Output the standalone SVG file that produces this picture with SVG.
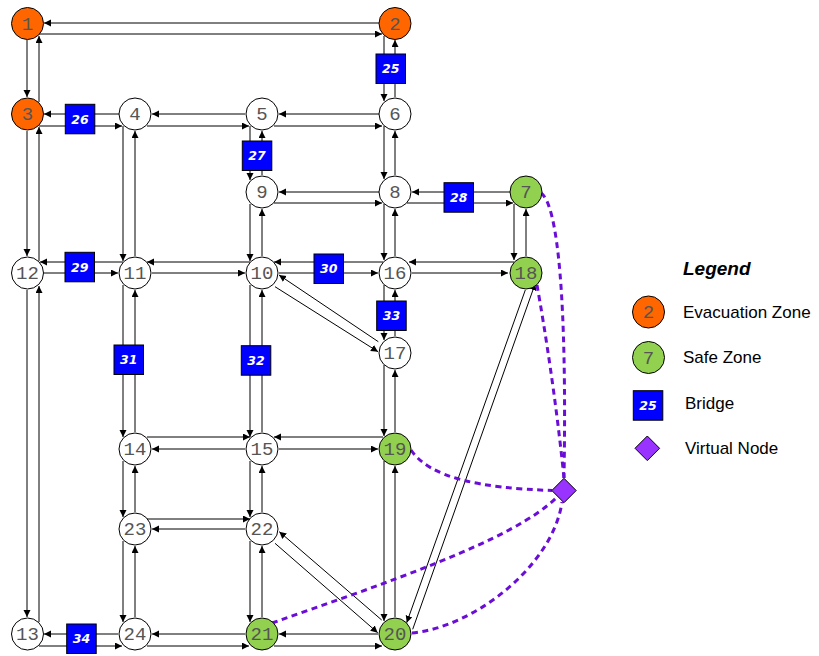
<svg xmlns="http://www.w3.org/2000/svg" width="819" height="656" viewBox="0 0 819 656">
<defs>
<marker id="ah" markerWidth="8" markerHeight="8" refX="7" refY="3.5" orient="auto" markerUnits="userSpaceOnUse"><path d="M0,0 L7,3.5 L0,7 z" fill="#000"/></marker>
<style>
.e{stroke:#000;stroke-width:1;fill:none;marker-end:url(#ah)}
.v{stroke:#6a0dd6;stroke-width:3;fill:none;stroke-dasharray:6 4.5}
.nd circle{stroke:#000;stroke-width:1}
.w{fill:#fff}.o{fill:#ff6600}.g{fill:#92d050}
.lbl{font-family:"Liberation Mono","DejaVu Sans Mono",monospace;font-size:19px;fill:#555;text-anchor:middle}
.br rect{fill:#0000ff;stroke:#000;stroke-width:1}
.bt{font-family:"DejaVu Sans",sans-serif;font-weight:bold;font-style:italic;font-size:12.5px;fill:#fff;text-anchor:middle}
.lg{font-family:"Liberation Sans",Arial,sans-serif;font-size:17px;fill:#000}
</style>
</defs>
<rect width="819" height="656" fill="#fff"/>
<g id="connectors">
<line class="e" x1="379" y1="23" x2="44" y2="23"/>
<line class="e" x1="39" y1="34" x2="382" y2="34"/>
<line class="e" x1="119" y1="114" x2="44" y2="114"/>
<line class="e" x1="39" y1="126" x2="122" y2="126"/>
<line class="e" x1="245" y1="114" x2="152" y2="114"/>
<line class="e" x1="147" y1="126" x2="249" y2="126"/>
<line class="e" x1="379" y1="114" x2="279" y2="114"/>
<line class="e" x1="274" y1="126" x2="382" y2="126"/>
<line class="e" x1="379" y1="192" x2="279" y2="192"/>
<line class="e" x1="274" y1="203" x2="382" y2="203"/>
<line class="e" x1="510" y1="192" x2="412" y2="192"/>
<line class="e" x1="407" y1="203" x2="513" y2="203"/>
<line class="e" x1="123" y1="262" x2="40" y2="262"/>
<line class="e" x1="44" y1="273" x2="118" y2="273"/>
<line class="e" x1="250" y1="262" x2="147" y2="262"/>
<line class="e" x1="152" y1="273" x2="245" y2="273"/>
<line class="e" x1="383" y1="262" x2="274" y2="262"/>
<line class="e" x1="279" y1="273" x2="378" y2="273"/>
<line class="e" x1="514" y1="262" x2="409" y2="262"/>
<line class="e" x1="412" y1="273" x2="508" y2="273"/>
<line class="e" x1="147" y1="437" x2="250" y2="437"/>
<line class="e" x1="245" y1="449" x2="152" y2="449"/>
<line class="e" x1="383" y1="437" x2="274" y2="437"/>
<line class="e" x1="279" y1="449" x2="378" y2="449"/>
<line class="e" x1="147" y1="519" x2="250" y2="519"/>
<line class="e" x1="245" y1="529" x2="152" y2="529"/>
<line class="e" x1="118" y1="634" x2="44" y2="634"/>
<line class="e" x1="39" y1="646" x2="122" y2="646"/>
<line class="e" x1="245" y1="634" x2="152" y2="634"/>
<line class="e" x1="147" y1="646" x2="249" y2="646"/>
<line class="e" x1="378" y1="634" x2="279" y2="634"/>
<line class="e" x1="274" y1="646" x2="382" y2="646"/>
<line class="e" x1="27" y1="40" x2="27" y2="97"/>
<line class="e" x1="39" y1="102" x2="39" y2="36"/>
<line class="e" x1="27" y1="131" x2="27" y2="256"/>
<line class="e" x1="39" y1="261" x2="39" y2="127"/>
<line class="e" x1="27" y1="290" x2="27" y2="617"/>
<line class="e" x1="39" y1="622" x2="39" y2="286"/>
<line class="e" x1="123" y1="126" x2="123" y2="261"/>
<line class="e" x1="135" y1="256" x2="135" y2="131"/>
<line class="e" x1="123" y1="285" x2="123" y2="437"/>
<line class="e" x1="135" y1="432" x2="135" y2="290"/>
<line class="e" x1="123" y1="461" x2="123" y2="517"/>
<line class="e" x1="135" y1="512" x2="135" y2="466"/>
<line class="e" x1="123" y1="541" x2="123" y2="622"/>
<line class="e" x1="135" y1="617" x2="135" y2="546"/>
<line class="e" x1="250" y1="126" x2="250" y2="180"/>
<line class="e" x1="262" y1="175" x2="262" y2="131"/>
<line class="e" x1="250" y1="204" x2="250" y2="261"/>
<line class="e" x1="262" y1="256" x2="262" y2="209"/>
<line class="e" x1="250" y1="285" x2="250" y2="437"/>
<line class="e" x1="262" y1="432" x2="262" y2="290"/>
<line class="e" x1="250" y1="461" x2="250" y2="517"/>
<line class="e" x1="262" y1="512" x2="262" y2="466"/>
<line class="e" x1="250" y1="541" x2="250" y2="622"/>
<line class="e" x1="262" y1="617" x2="262" y2="546"/>
<line class="e" x1="384" y1="36" x2="384" y2="101"/>
<line class="e" x1="395" y1="97" x2="395" y2="40"/>
<line class="e" x1="384" y1="126" x2="384" y2="179"/>
<line class="e" x1="395" y1="175" x2="395" y2="131"/>
<line class="e" x1="384" y1="204" x2="384" y2="260"/>
<line class="e" x1="395" y1="256" x2="395" y2="209"/>
<line class="e" x1="384" y1="285" x2="384" y2="340"/>
<line class="e" x1="395" y1="336" x2="395" y2="290"/>
<line class="e" x1="384" y1="365" x2="384" y2="436"/>
<line class="e" x1="395" y1="432" x2="395" y2="370"/>
<line class="e" x1="384" y1="461" x2="384" y2="621"/>
<line class="e" x1="395" y1="617" x2="395" y2="466"/>
<line class="e" x1="514" y1="204" x2="514" y2="260"/>
<line class="e" x1="526" y1="256" x2="526" y2="209"/>
<line class="e" x1="378.3" y1="341.7" x2="279" y2="275"/>
<line class="e" x1="275" y1="286.7" x2="378" y2="351.7"/>
<line class="e" x1="525.3" y1="290" x2="406.7" y2="622.7"/>
<line class="e" x1="412.7" y1="629.3" x2="535.3" y2="283.3"/>
<line class="e" x1="381.7" y1="620" x2="279.3" y2="531.7"/>
<line class="e" x1="275" y1="543.3" x2="377.7" y2="632.7"/>
<path class="v" d="M541,193 C558,205 567,300 564,478"/>
<path class="v" d="M537,285 C545,330 556,400 564,478"/>
<path class="v" d="M411,450 C430,478 480,488 552,490.5"/>
<path class="v" d="M272,623 C380,585 515,540 557,497"/>
<path class="v" d="M412,633 C475,627 553,565 562,502"/>
</g>
<g id="bridge25" class="br"><rect x="376" y="54" width="29.5" height="29.5"/><text class="bt" x="390.8" y="73.3">25</text></g>
<g id="bridge26" class="br"><rect x="65.3" y="104.3" width="29.5" height="29.5"/><text class="bt" x="80" y="123.6">26</text></g>
<g id="bridge27" class="br"><rect x="242.3" y="141" width="29.5" height="29.5"/><text class="bt" x="257" y="160.3">27</text></g>
<g id="bridge28" class="br"><rect x="444" y="182.7" width="29.5" height="29.5"/><text class="bt" x="458.8" y="202">28</text></g>
<g id="bridge29" class="br"><rect x="65" y="252.3" width="29.5" height="29.5"/><text class="bt" x="79.8" y="271.6">29</text></g>
<g id="bridge30" class="br"><rect x="314" y="254" width="29.5" height="29.5"/><text class="bt" x="328.8" y="273.3">30</text></g>
<g id="bridge31" class="br"><rect x="114" y="345" width="29.5" height="29.5"/><text class="bt" x="128.8" y="364.3">31</text></g>
<g id="bridge32" class="br"><rect x="241.3" y="345.7" width="29.5" height="29.5"/><text class="bt" x="256" y="365">32</text></g>
<g id="bridge33" class="br"><rect x="376.7" y="301" width="29.5" height="29.5"/><text class="bt" x="391.5" y="320.3">33</text></g>
<g id="bridge34" class="br"><rect x="66.7" y="624" width="29.5" height="29.5"/><text class="bt" x="81.5" y="643.3">34</text></g>
<g id="n1" class="nd"><circle class="o" cx="27.5" cy="23.5" r="16"/><text class="lbl" x="27.5" y="29.5">1</text></g>
<g id="n2" class="nd"><circle class="o" cx="395" cy="23.5" r="16"/><text class="lbl" x="395" y="29.5">2</text></g>
<g id="n3" class="nd"><circle class="o" cx="27.5" cy="114" r="16"/><text class="lbl" x="27.5" y="120">3</text></g>
<g id="n4" class="nd"><circle class="w" cx="135" cy="114" r="16"/><text class="lbl" x="135" y="120">4</text></g>
<g id="n5" class="nd"><circle class="w" cx="262" cy="114" r="16"/><text class="lbl" x="262" y="120">5</text></g>
<g id="n6" class="nd"><circle class="w" cx="395" cy="114" r="16"/><text class="lbl" x="395" y="120">6</text></g>
<g id="n7" class="nd"><circle class="g" cx="526" cy="192" r="16"/><text class="lbl" x="526" y="198">7</text></g>
<g id="n8" class="nd"><circle class="w" cx="395" cy="192" r="16"/><text class="lbl" x="395" y="198">8</text></g>
<g id="n9" class="nd"><circle class="w" cx="262" cy="192" r="16"/><text class="lbl" x="262" y="198">9</text></g>
<g id="n10" class="nd"><circle class="w" cx="262" cy="273" r="16"/><text class="lbl" x="262" y="279">10</text></g>
<g id="n11" class="nd"><circle class="w" cx="135" cy="273" r="16"/><text class="lbl" x="135" y="279">11</text></g>
<g id="n12" class="nd"><circle class="w" cx="27.5" cy="273" r="16"/><text class="lbl" x="27.5" y="279">12</text></g>
<g id="n13" class="nd"><circle class="w" cx="27.5" cy="634" r="16"/><text class="lbl" x="27.5" y="640">13</text></g>
<g id="n14" class="nd"><circle class="w" cx="135" cy="449" r="16"/><text class="lbl" x="135" y="455">14</text></g>
<g id="n15" class="nd"><circle class="w" cx="262" cy="449" r="16"/><text class="lbl" x="262" y="455">15</text></g>
<g id="n16" class="nd"><circle class="w" cx="395" cy="273" r="16"/><text class="lbl" x="395" y="279">16</text></g>
<g id="n17" class="nd"><circle class="w" cx="395" cy="353" r="16"/><text class="lbl" x="395" y="359">17</text></g>
<g id="n18" class="nd"><circle class="g" cx="526" cy="273" r="16"/><text class="lbl" x="526" y="279">18</text></g>
<g id="n19" class="nd"><circle class="g" cx="395" cy="449" r="16"/><text class="lbl" x="395" y="455">19</text></g>
<g id="n20" class="nd"><circle class="g" cx="395" cy="634" r="16"/><text class="lbl" x="395" y="640">20</text></g>
<g id="n21" class="nd"><circle class="g" cx="262" cy="634" r="16"/><text class="lbl" x="262" y="640">21</text></g>
<g id="n22" class="nd"><circle class="w" cx="262" cy="529" r="16"/><text class="lbl" x="262" y="535">22</text></g>
<g id="n23" class="nd"><circle class="w" cx="135" cy="529" r="16"/><text class="lbl" x="135" y="535">23</text></g>
<g id="n24" class="nd"><circle class="w" cx="135" cy="634" r="16"/><text class="lbl" x="135" y="640">24</text></g>
<g id="virtual"><polygon points="564,478.3 576.2,490.5 564,502.7 551.8,490.5" fill="#9933ff" stroke="#000" stroke-width="1"/></g>
<g id="legend">
<text x="683" y="275" font-family="Liberation Sans, Arial, sans-serif" font-size="19" font-weight="bold" font-style="italic" fill="#000">Legend</text>
<g class="nd"><circle class="o" cx="648.5" cy="312" r="16"/><text class="lbl" x="648.5" y="318">2</text></g>
<text class="lg" x="683" y="317.5">Evacuation Zone</text>
<g class="nd"><circle class="g" cx="648.5" cy="357.5" r="16"/><text class="lbl" x="648.5" y="363.5">7</text></g>
<text class="lg" x="683" y="363">Safe Zone</text>
<g class="br"><rect x="633.3" y="390.7" width="29.5" height="29.5"/><text class="bt" x="648" y="409.9">25</text></g>
<text class="lg" x="685" y="408.5">Bridge</text>
<polygon points="647.3,436 659.6,448.3 647.3,460.6 635,448.3" fill="#9933ff" stroke="#000" stroke-width="1"/>
<text class="lg" x="685" y="453.5">Virtual Node</text>
</g>
</svg>
